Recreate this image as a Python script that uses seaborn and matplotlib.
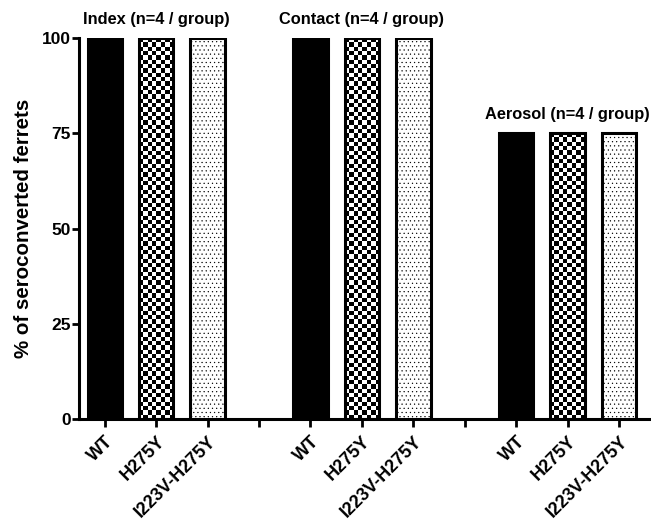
import numpy as np
import pandas as pd
import matplotlib
matplotlib.use("Agg")
import matplotlib.pyplot as plt
import seaborn as sns

# Seroconversion per transmission route (% of ferrets, n=4 / group)
routes = ['Index', 'Contact', 'Aerosol']
route_titles = ['Index (n=4 / group)', 'Contact (n=4 / group)', 'Aerosol (n=4 / group)']
strains = ['WT', 'H275Y', 'I223V-H275Y']
index_pct = [100, 100, 100]
contact_pct = [100, 100, 100]
aerosol_pct = [75, 75, 75]
y_ticks = [0, 25, 50, 75, 100]

sns.set_style('ticks')
plt.rcParams['font.family'] = ['Liberation Sans', 'DejaVu Sans']
plt.rcParams['font.weight'] = 'bold'
plt.rcParams['hatch.linewidth'] = 0.35
for key in ['text.color', 'axes.labelcolor', 'axes.edgecolor', 'xtick.color', 'ytick.color']:
    plt.rcParams[key] = 'black'

rows = []
for route, values in zip(routes, [index_pct, contact_pct, aerosol_pct]):
    for strain, v in zip(strains, values):
        rows.append({'slot': f'{route}|{strain}', 'route': route, 'strain': strain, 'pct': v})
df = pd.DataFrame(rows)

# empty slot between route groups (keeps an unlabeled tick like the original)
order = []
for i, route in enumerate(routes):
    order += [f'{route}|{s}' for s in strains]
    if i < len(routes) - 1:
        order.append(f'gap{i}')

fig = plt.figure(figsize=(6.51, 5.25), dpi=100)
ax = fig.add_axes([0.1214, 0.2019, 0.8770, 0.7257])

palette = {'WT': 'black', 'H275Y': 'white', 'I223V-H275Y': 'white'}
sns.barplot(data=df, x='slot', y='pct', hue='strain', order=order, hue_order=strains,
            palette=palette, dodge=False, width=0.67, saturation=1, legend=False,
            edgecolor='black', linewidth=2.2, zorder=3, ax=ax)

ax.set_xlim(-0.5, 10.6)
ax.set_ylim(0, 100)
ax.set_yticks(y_ticks)
ax.set_yticklabels([str(t) for t in y_ticks], fontsize=12.5, fontweight='bold')
ax.set_xticks(range(len(order)))
ax.set_xticklabels([k.split('|')[1] if '|' in k else '' for k in order],
                   rotation=45, ha='right', rotation_mode='anchor',
                   fontsize=13, fontweight='bold')
ax.set_xlabel('')
ax.set_ylabel('% of seroconverted ferrets', fontsize=14.8, fontweight='bold', labelpad=6)

sns.despine(ax=ax)
for side in ['left', 'bottom']:
    ax.spines[side].set_linewidth(2.2)
ax.tick_params(axis='y', length=5, width=2, pad=1)
ax.tick_params(axis='x', length=6, width=2, pad=4)

# checkerboard for H275Y, dots for I223V-H275Y
fig.canvas.draw()
for bar in ax.containers[1]:
    x0, w, h = bar.get_x(), bar.get_width(), bar.get_height()
    p0 = ax.transData.transform((x0, 0))
    p1 = ax.transData.transform((x0 + w, h))
    ncols = 8
    sq = (p1[0] - p0[0]) / ncols
    nrows = int(round((p1[1] - p0[1]) / sq))
    checker = np.indices((nrows, ncols)).sum(axis=0) % 2
    im = ax.imshow(checker, cmap='gray', extent=(x0, x0 + w, 0, h), aspect='auto',
                   interpolation='nearest', zorder=2)
    im.set_clip_path(bar)
    bar.set_facecolor('none')
for bar in ax.containers[2]:
    bar.set_hatch('....')
ax.set_xlim(-0.5, 10.6)
ax.set_ylim(0, 100)

# group titles above the middle bar of each route
for route, title in zip(routes, route_titles):
    sub = df[df['route'] == route]
    mid = sub.iloc[1]
    ax.annotate(title, xy=(order.index(mid['slot']), mid['pct']), xytext=(0, 10),
                textcoords='offset points', ha='center', va='baseline',
                fontsize=11.8, fontweight='bold', annotation_clip=False)

fig.savefig('out.png', dpi=100)
